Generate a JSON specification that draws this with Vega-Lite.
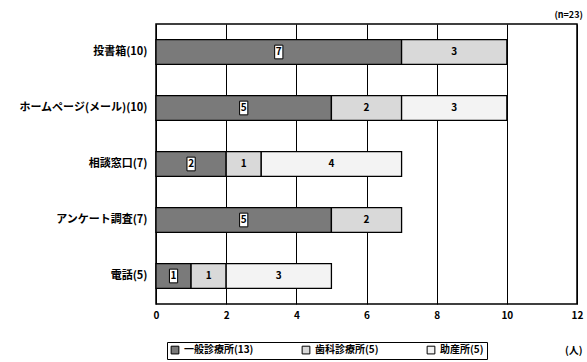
{
  "$schema": "https://vega.github.io/schema/vega-lite/v6.json",
  "width": 421,
  "height": 280,
  "autosize": "none",
  "padding": {"left": 156, "top": 24, "right": 10, "bottom": 58},
  "background": "white",
  "config": {
    "font": "Noto Sans CJK JP",
    "view": {"stroke": "black", "strokeWidth": 1.5}
  },
  "title": {"text": "(n=23)", "anchor": "end", "fontSize": 9, "fontWeight": "bold", "color": "black", "offset": 4},
  "data": {
    "values": [
      {"method": "投書箱(10)", "type": "一般診療所(13)", "k": 1, "value": 7},
      {"method": "投書箱(10)", "type": "歯科診療所(5)", "k": 2, "value": 3},
      {"method": "ホームページ(メール)(10)", "type": "一般診療所(13)", "k": 1, "value": 5},
      {"method": "ホームページ(メール)(10)", "type": "歯科診療所(5)", "k": 2, "value": 2},
      {"method": "ホームページ(メール)(10)", "type": "助産所(5)", "k": 3, "value": 3},
      {"method": "相談窓口(7)", "type": "一般診療所(13)", "k": 1, "value": 2},
      {"method": "相談窓口(7)", "type": "歯科診療所(5)", "k": 2, "value": 1},
      {"method": "相談窓口(7)", "type": "助産所(5)", "k": 3, "value": 4},
      {"method": "アンケート調査(7)", "type": "一般診療所(13)", "k": 1, "value": 5},
      {"method": "アンケート調査(7)", "type": "歯科診療所(5)", "k": 2, "value": 2},
      {"method": "電話(5)", "type": "一般診療所(13)", "k": 1, "value": 1},
      {"method": "電話(5)", "type": "歯科診療所(5)", "k": 2, "value": 1},
      {"method": "電話(5)", "type": "助産所(5)", "k": 3, "value": 3}
    ]
  },
  "transform": [
    {"stack": "value", "groupby": ["method"], "sort": [{"field": "k"}], "as": ["x0", "x1"]},
    {"calculate": "(datum.x0 + datum.x1) / 2", "as": "mid"}
  ],
  "encoding": {
    "y": {
      "field": "method", "type": "nominal",
      "sort": ["投書箱(10)", "ホームページ(メール)(10)", "相談窓口(7)", "アンケート調査(7)", "電話(5)"],
      "scale": {"paddingInner": 0.56, "paddingOuter": 0.28},
      "axis": {"title": null, "domain": false, "ticks": false, "labelPadding": 9, "labelFontSize": 11, "labelFontWeight": "bold", "labelColor": "black", "labelLimit": 200}
    }
  },
  "layer": [
    {
      "mark": {"type": "bar", "stroke": "black", "strokeWidth": 1.3},
      "encoding": {
        "x": {
          "field": "x0", "type": "quantitative",
          "scale": {"domain": [0, 12], "nice": false},
          "axis": {
            "values": [0, 2, 4, 6, 8, 10, 12], "title": "(人)", "titleX": 426, "titleY": 46,
            "titleAlign": "right", "titleBaseline": "middle", "titleFontSize": 10, "titleFontWeight": "bold", "titleColor": "black",
            "domain": false, "ticks": false, "grid": true, "gridColor": "black", "gridOpacity": 1, "gridWidth": 1,
            "labelPadding": 6, "labelFontSize": 10, "labelFontWeight": "bold", "labelColor": "black", "labelFlush": false
          }
        },
        "x2": {"field": "x1"},
        "fill": {
          "field": "type", "type": "nominal",
          "scale": {"domain": ["一般診療所(13)", "歯科診療所(5)", "助産所(5)"], "range": ["#7a7a7a", "#d9d9d9", "#f3f3f3"]},
          "legend": {
            "title": null, "orient": "none", "legendX": 11, "legendY": 318, "direction": "horizontal", "columns": 3,
            "symbolType": "square", "symbolSize": 60, "symbolStrokeColor": "black", "symbolStrokeWidth": 1,
            "labelFontSize": 10, "labelFontWeight": "bold", "labelColor": "black", "columnPadding": 46, "labelOffset": 4,
            "strokeColor": "black", "padding": 3
          }
        }
      }
    },
    {
      "transform": [{"filter": "datum.k === 1"}],
      "mark": {"type": "point", "shape": "M-0.3,-0.5L0.3,-0.5L0.3,0.5L-0.3,0.5Z", "filled": true, "fill": "white", "stroke": "black", "strokeWidth": 1, "size": 750, "opacity": 1},
      "encoding": {"x": {"field": "mid", "type": "quantitative"}}
    },
    {
      "mark": {"type": "text", "fontSize": 10, "fontWeight": "bold", "color": "black", "baseline": "middle", "align": "center"},
      "encoding": {
        "x": {"field": "mid", "type": "quantitative"},
        "text": {"field": "value", "type": "quantitative"}
      }
    }
  ]
}
